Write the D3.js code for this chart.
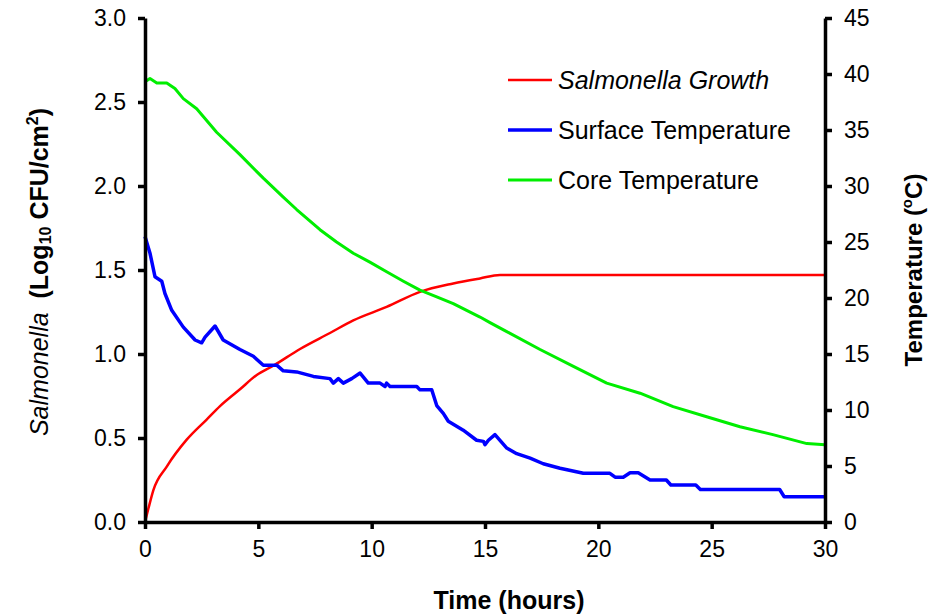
<!DOCTYPE html>
<html>
<head>
<meta charset="utf-8">
<script src="https://cdn.jsdelivr.net/npm/d3@7"></script>
<style>
  body { margin: 0; background: #fff; }
  svg text { font-family: "Liberation Sans", Arial, sans-serif; fill: #000; }
</style>
</head>
<body>
<div id="chart"></div>
<script>
// time (h) / Log10 CFU/cm2
var growthTime = [0, 0.15, 0.37, 0.96, 1.84, 2.72, 3.31, 4.19, 4.93, 5.66, 6.84, 8.16, 9.19, 10.66, 12.13, 13.6, 14.78, 15.66, 30];
var growthVal = [0, 0.08, 0.19, 0.33, 0.49, 0.61, 0.69, 0.79, 0.875, 0.93, 1.03, 1.125, 1.2, 1.28, 1.37, 1.42, 1.45, 1.47, 1.47];

// time (h) / surface temp (C)
var surfTime = [0, 0.22, 0.44, 0.74, 0.88, 1.18, 1.69, 2.21, 2.5, 2.65, 3.09, 3.45, 4.19, 4.78, 5.22, 5.81, 6.1, 6.69, 7.43, 8.16, 8.31, 8.53, 8.75, 9.12, 9.49, 9.85, 10.37, 10.59, 10.66, 10.81, 11.99, 12.13, 12.65, 12.87, 13.16, 13.38, 14.04, 14.63, 14.93, 15.0, 15.15, 15.44, 15.96, 16.4, 16.99, 17.57, 18.31, 19.34, 20.51, 20.74, 21.1, 21.4, 21.76, 22.28, 23.0, 23.2, 24.3, 24.5, 28.0, 28.2, 30];
var surfVal = [25.5, 24.0, 21.9, 21.5, 20.4, 18.9, 17.4, 16.25, 16.0, 16.5, 17.5, 16.25, 15.4, 14.8, 14.0, 14.0, 13.5, 13.4, 13.0, 12.8, 12.4, 12.8, 12.4, 12.8, 13.3, 12.4, 12.4, 12.1, 12.4, 12.1, 12.1, 11.8, 11.8, 10.4, 9.7, 9.0, 8.2, 7.3, 7.2, 6.9, 7.3, 7.8, 6.6, 6.1, 5.7, 5.2, 4.8, 4.35, 4.35, 4.0, 4.0, 4.4, 4.4, 3.75, 3.75, 3.3, 3.3, 2.9, 2.9, 2.25, 2.25];

// time (h) / core temp (C)
var coreTime = [0, 0.22, 0.52, 0.96, 1.32, 1.69, 2.28, 3.16, 4.19, 5.22, 6.1, 6.69, 7.72, 8.45, 9.19, 9.92, 10.66, 11.4, 12.13, 12.87, 13.6, 14.19, 14.78, 15.22, 15.96, 17.43, 18.9, 20.37, 21.84, 23.3, 24.78, 26.25, 27.7, 29.2, 30];
var coreVal = [39.3, 39.6, 39.2, 39.2, 38.7, 37.8, 36.9, 34.8, 32.8, 30.7, 29.0, 27.9, 26.1, 25.0, 24.0, 23.2, 22.35, 21.5, 20.7, 20.1, 19.5, 18.9, 18.3, 17.8, 17.0, 15.4, 13.9, 12.4, 11.5, 10.3, 9.4, 8.5, 7.8, 7.0, 6.9];

var xTicks = [0, 5, 10, 15, 20, 25, 30];
var leftTicks = [0, 0.5, 1.0, 1.5, 2.0, 2.5, 3.0];
var rightTicks = [0, 5, 10, 15, 20, 25, 30, 35, 40, 45];

var W = 938, H = 615;
var plotL = 145, plotR = 825, plotT = 18, plotB = 522;

var svg = d3.select('#chart').append('svg')
    .attr('width', W)
    .attr('height', H);

var x = d3.scaleLinear().domain([0, 30]).range([plotL, plotR]);
var yL = d3.scaleLinear().domain([0, 3]).range([plotB, plotT]);
var yR = d3.scaleLinear().domain([0, 45]).range([plotB, plotT]);

function pairs(ts, vs) {
    return ts.map(function (t, i) { return [t, vs[i]]; });
}

var lineL = d3.line().x(function (d) { return x(d[0]); }).y(function (d) { return yL(d[1]); })
    .curve(d3.curveMonotoneX);
var lineR = d3.line().x(function (d) { return x(d[0]); }).y(function (d) { return yR(d[1]); });

var series = [
    { name: 'Salmonella Growth', color: '#ff0000', width: 2.5, path: lineL(pairs(growthTime, growthVal)), italic: true },
    { name: 'Surface Temperature', color: '#0000ff', width: 3.5, path: lineR(pairs(surfTime, surfVal)) },
    { name: 'Core Temperature', color: '#00ee00', width: 3, path: lineR(pairs(coreTime, coreVal)) }
];

svg.selectAll('path.series')
    .data(series)
    .enter().append('path')
    .attr('class', 'series')
    .attr('d', function (d) { return d.path; })
    .attr('fill', 'none')
    .attr('stroke', function (d) { return d.color; })
    .attr('stroke-width', function (d) { return d.width; })
    .attr('stroke-linejoin', 'round');

// axes
function styleAxis(g) {
    g.selectAll('path.domain').attr('stroke', '#000').attr('stroke-width', 3.5);
    g.selectAll('.tick line').attr('stroke', '#000').attr('stroke-width', 3.5);
    g.selectAll('.tick text').style('font-size', '23px').attr('fill', '#000');
}

svg.append('g')
    .attr('transform', 'translate(0,' + plotB + ')')
    .call(d3.axisBottom(x).tickValues(xTicks).tickSize(7).tickSizeOuter(0).tickPadding(12).tickFormat(d3.format('d')))
    .call(styleAxis);

svg.append('g')
    .attr('transform', 'translate(' + plotL + ',0)')
    .call(d3.axisLeft(yL).tickValues(leftTicks).tickSize(7).tickSizeOuter(0).tickPadding(12).tickFormat(d3.format('.1f')))
    .call(styleAxis);

svg.append('g')
    .attr('transform', 'translate(' + plotR + ',0)')
    .call(d3.axisRight(yR).tickValues(rightTicks).tickSize(7).tickSizeOuter(0).tickPadding(12).tickFormat(d3.format('d')))
    .call(styleAxis);

// axis titles
svg.append('text')
    .attr('x', 509)
    .attr('y', 609)
    .attr('text-anchor', 'middle')
    .style('font-size', '25px')
    .style('font-weight', 'bold')
    .text('Time (hours)');

var lt = svg.append('text')
    .attr('transform', 'translate(48,272) rotate(-90)')
    .attr('text-anchor', 'middle')
    .style('font-size', '25px');
lt.append('tspan').style('font-style', 'italic').text('Salmonella');
lt.append('tspan').style('font-weight', 'bold').text('\u00a0 (Log');
lt.append('tspan').style('font-weight', 'bold').style('font-size', '16px').attr('dy', 3).text('10');
lt.append('tspan').style('font-weight', 'bold').attr('dy', -3).text(' CFU/cm');
lt.append('tspan').style('font-weight', 'bold').style('font-size', '16px').attr('dy', -10).text('2');
lt.append('tspan').style('font-weight', 'bold').attr('dy', 10).text(')');

var rt = svg.append('text')
    .attr('transform', 'translate(922,270) rotate(-90)')
    .attr('text-anchor', 'middle')
    .style('font-size', '24px')
    .style('font-weight', 'bold');
rt.append('tspan').text('Temperature (');
rt.append('tspan').style('font-size', '15px').attr('dy', -10).text('o');
rt.append('tspan').attr('dy', 10).text('C)');

// legend
var leg = svg.append('g').attr('transform', 'translate(508,80)');
var items = leg.selectAll('g')
    .data(series)
    .enter().append('g')
    .attr('transform', function (d, i) { return 'translate(0,' + i * 50 + ')'; });
items.append('line')
    .attr('x1', 0).attr('x2', 44)
    .attr('stroke', function (d) { return d.color; })
    .attr('stroke-width', function (d) { return d.width; });
items.append('text')
    .attr('x', 50)
    .attr('dy', '0.35em')
    .style('font-size', '25px')
    .style('font-style', function (d) { return d.italic ? 'italic' : 'normal'; })
    .text(function (d) { return d.name; });
</script>
</body>
</html>
